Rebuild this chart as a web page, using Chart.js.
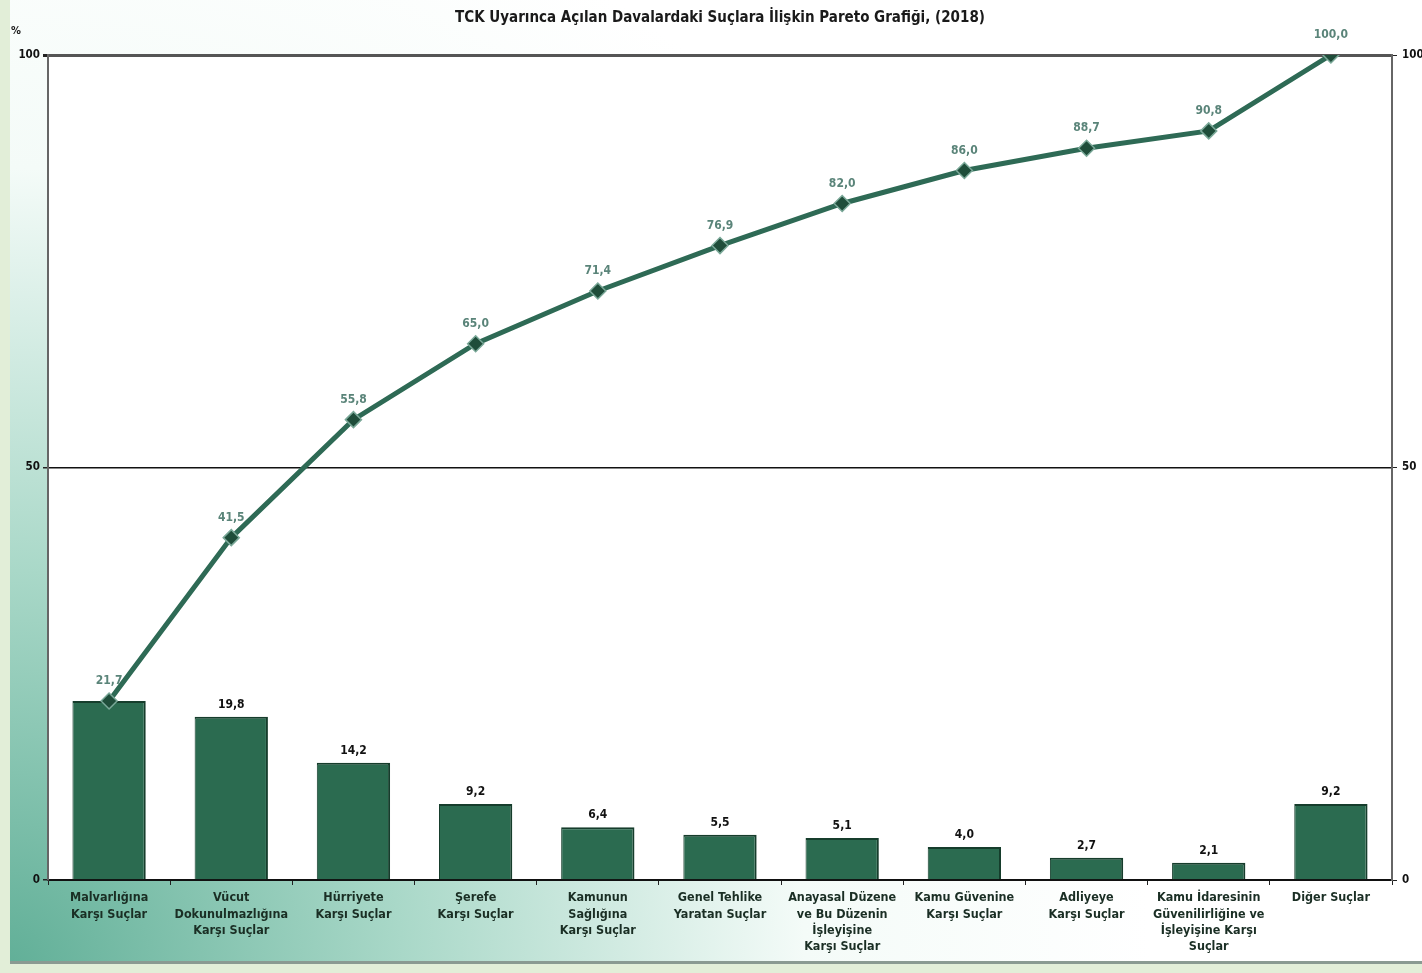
<!DOCTYPE html>
<html>
<head>
<meta charset="utf-8">
<script src="https://cdn.jsdelivr.net/npm/chart.js@4.4.1/dist/chart.umd.min.js"></script>
<style>
  html, body { margin: 0; padding: 0; background: #e2eed8; }
  #wrap { width: 1422px; height: 973px; position: relative; }
</style>
</head>
<body>
<div id="wrap"><canvas id="myChart" width="1422" height="973"></canvas></div>
<script>
// Veriler
const categories = [
    ["Malvarlığına", "Karşı Suçlar"],
    ["Vücut", "Dokunulmazlığına", "Karşı Suçlar"],
    ["Hürriyete", "Karşı Suçlar"],
    ["Şerefe", "Karşı Suçlar"],
    ["Kamunun", "Sağlığına", "Karşı Suçlar"],
    ["Genel Tehlike", "Yaratan Suçlar"],
    ["Anayasal Düzene", "ve Bu Düzenin", "İşleyişine", "Karşı Suçlar"],
    ["Kamu Güvenine", "Karşı Suçlar"],
    ["Adliyeye", "Karşı Suçlar"],
    ["Kamu İdaresinin", "Güvenilirliğine ve", "İşleyişine Karşı", "Suçlar"],
    "Diğer Suçlar",
];
const shares = [21.7, 19.8, 14.2, 9.2, 6.4, 5.5, 5.1, 4.0, 2.7, 2.1, 9.2];
const cumulative = [21.7, 41.5, 55.8, 65.0, 71.4, 76.9, 82.0, 86.0, 88.7, 90.8, 100.0];
const yTicks = [0, 50, 100];

const title = "TCK Uyarınca Açılan Davalardaki Suçlara İlişkin Pareto Grafiği, (2018)";
const FONT = "'DejaVu Sans Condensed', 'DejaVu Sans', sans-serif";

const fmt = v => v.toFixed(1).replace(".", ",");

// arka plan + başlık + etiketler
const decor = {
    id: "decor",
    beforeDraw(chart) {
        const c = chart.ctx;
        const a = chart.chartArea;
        c.save();
        c.fillStyle = "#e2eed8";
        c.fillRect(0, 0, chart.width, chart.height);
        const g = c.createRadialGradient(0, 973, 0, 0, 973, 1150);
        g.addColorStop(0, "#5fae96");
        g.addColorStop(0.35, "#a9d8c8");
        g.addColorStop(0.7, "#f4fbf8");
        g.addColorStop(1, "#ffffff");
        c.fillStyle = g;
        c.fillRect(10, 0, chart.width - 10, 963);
        c.fillStyle = "#8a9a92";
        c.fillRect(10, 961, chart.width - 10, 3);
        c.fillStyle = "#ffffff";
        c.fillRect(a.left, a.top, a.right - a.left, a.bottom - a.top);
        c.restore();
    },
    afterDraw(chart) {
        const c = chart.ctx;
        c.save();
        c.fillStyle = "#1a1a1a";
        c.font = "bold 15px " + FONT;
        c.textAlign = "center";
        c.textBaseline = "middle";
        c.fillText(title, 720, 18);
        c.font = "bold 11px " + FONT;
        c.fillText("%", 16, 31);

        // bar değerleri (ilk çubuk etiketi çizgi etiketiyle çakışıyor)
        const bars = chart.getDatasetMeta(1).data;
        c.font = "bold 12px " + FONT;
        c.fillStyle = "#111111";
        c.textBaseline = "bottom";
        bars.forEach((b, i) => {
            if (shares[i] !== cumulative[i]) c.fillText(fmt(shares[i]), b.x, b.y - 6);
        });

        // kümülatif değerler
        const pts = chart.getDatasetMeta(0).data;
        c.font = "bold 12px " + FONT;
        c.fillStyle = "#5a8479";
        pts.forEach((p, i) => c.fillText(fmt(cumulative[i]), p.x, p.y - 14));
        c.restore();
    },
};

const ctx = document.getElementById("myChart").getContext("2d");

new Chart(ctx, {
    data: {
        labels: categories,
        datasets: [
            {
                type: "line",
                label: "Kümülatif",
                data: cumulative,
                yAxisID: "y",
                borderColor: "#2e6a55",
                borderWidth: 5,
                pointStyle: "rectRot",
                pointRadius: 8,
                pointBackgroundColor: "#1f4d3a",
                pointBorderColor: "#7aa898",
                pointBorderWidth: 1.5,
                tension: 0,
                order: 0,
            },
            {
                type: "bar",
                label: "Pay",
                data: shares,
                yAxisID: "y",
                backgroundColor: "#2b6b50",
                borderColor: "#163d2c",
                borderWidth: { left: 1, right: 2, top: 2, bottom: 0 },
                barPercentage: 0.6,
                categoryPercentage: 1.0,
                order: 1,
            },
        ],
    },
    options: {
        responsive: false,
        animation: false,
        layout: { padding: { top: 55, left: 0, right: 0, bottom: 0 } },
        plugins: {
            legend: { display: false },
            tooltip: { enabled: false },
        },
        scales: {
            x: {
                grid: {
                    offset: true,
                    drawOnChartArea: false,
                    tickLength: 5,
                    color: "#222222",
                },
                border: { color: "#111111", width: 2 },
                ticks: {
                    color: "#1a2e24",
                    font: { family: FONT, size: 12.5, weight: "bold", lineHeight: 1.3 },
                    maxRotation: 0,
                    autoSkip: false,
                    padding: 5,
                },
                afterFit: s => { s.height = 93; },
            },
            y: {
                min: 0,
                max: 100,
                afterBuildTicks: s => { s.ticks = yTicks.map(v => ({ value: v })); },
                grid: {
                    color: t => (t.tick.value === 50 ? "#111111" : t.tick.value === 100 ? "#555555" : "rgba(0,0,0,0)"),
                    lineWidth: t => (t.tick.value === 100 ? 3 : 1.5),
                    tickLength: 5,
                    tickColor: "#222222",
                },
                border: { color: "#666666", width: 2 },
                ticks: {
                    color: "#111111",
                    font: { family: FONT, size: 11.5, weight: "bold" },
                    padding: 3,
                },
                afterFit: s => { s.width = 48; },
            },
            y2: {
                position: "right",
                min: 0,
                max: 100,
                afterBuildTicks: s => { s.ticks = yTicks.map(v => ({ value: v })); },
                grid: { drawOnChartArea: false, tickLength: 5, color: "#222222" },
                border: { color: "#666666", width: 2 },
                ticks: {
                    color: "#111111",
                    font: { family: FONT, size: 11.5, weight: "bold" },
                    padding: 5,
                },
                afterFit: s => { s.width = 30; },
            },
        },
    },
    plugins: [decor],
});
</script>
</body>
</html>
